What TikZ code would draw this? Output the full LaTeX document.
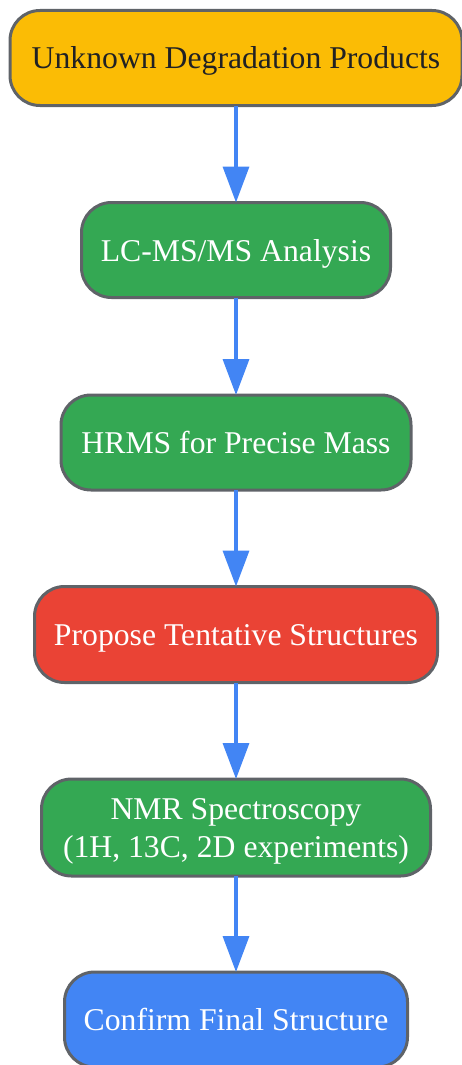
\documentclass[tikz,border=0pt]{standalone}
\usepackage{fontspec}
\setmainfont{Liberation Serif}
\usetikzlibrary{arrows.meta}
\definecolor{cyellow}{HTML}{FBBC05}
\definecolor{cgreen}{HTML}{34A853}
\definecolor{cred}{HTML}{EA4335}
\definecolor{cblue}{HTML}{4285F4}
\definecolor{cstroke}{HTML}{5F6368}
\definecolor{cdark}{HTML}{202124}
\tikzset{
  box/.style={draw=cstroke, line width=3pt, rounded corners=30pt, inner sep=0pt, outer sep=0pt,
    align=center, font=\fontsize{31.7}{38}\selectfont, text=white, minimum height=95pt,
    text height=26pt, text depth=4pt},
  flow/.style={draw=cblue, line width=3.5pt, -{Triangle[width=26pt,length=36pt]}},
}
\begin{document}
\begin{tikzpicture}[x=1pt,y=1pt]
\useasboundingbox (0,0) rectangle (461,-1065);
\node[box, fill=cyellow, text=cdark, minimum width=452pt] (n1) at (236,-58) {Unknown Degradation Products};
\node[box, fill=cgreen, minimum width=309pt] (n2) at (236,-250) {LC-MS/MS Analysis};
\node[box, fill=cgreen, minimum width=350pt] (n3) at (236,-442.5) {HRMS for Precise Mass};
\node[box, fill=cred, minimum width=403pt, minimum height=96pt] (n4) at (236,-634.5) {Propose Tentative Structures};
\node[box, fill=cgreen, minimum width=389pt, minimum height=97pt, text height=64pt] (n5) at (236,-827.5) {NMR Spectroscopy\\(1H, 13C, 2D experiments)};
\node[box, fill=cblue, minimum width=343pt] (n6) at (236,-1019.5) {Confirm Final Structure};
\draw[flow] (n1.south) -- (n2.north);
\draw[flow] (n2.south) -- (n3.north);
\draw[flow] (n3.south) -- (n4.north);
\draw[flow] (n4.south) -- (n5.north);
\draw[flow] (n5.south) -- (n6.north);
\end{tikzpicture}
\end{document}
